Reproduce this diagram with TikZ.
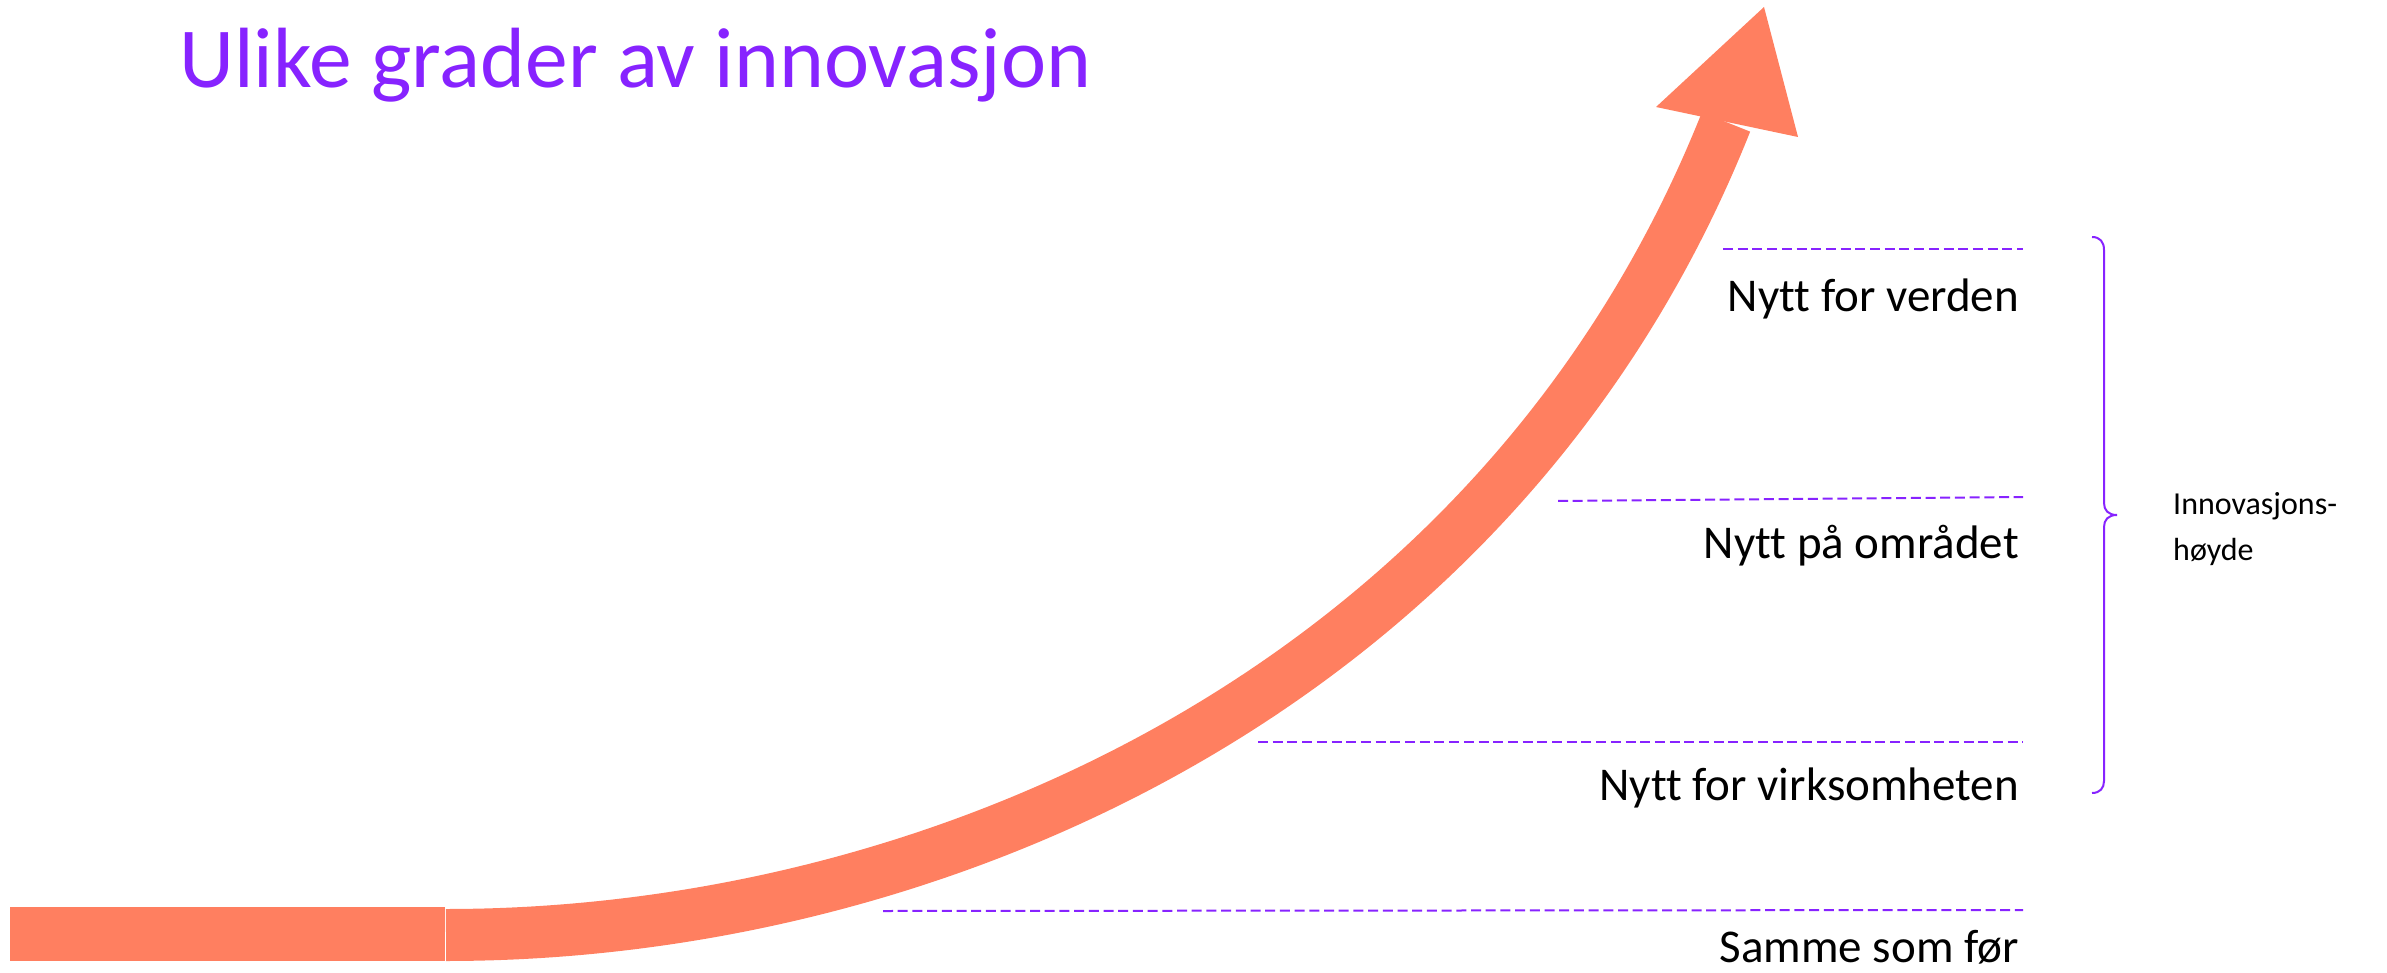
\documentclass[tikz,border=0pt]{standalone}
\usepackage{fontspec}
\setmainfont{Carlito}[Ligatures=NoCommon]
\definecolor{arrowc}{RGB}{255,127,96}
\definecolor{purp}{RGB}{135,35,255}
\tikzset{
  lvl/.style={draw=purp, line width=2pt, dash pattern=on 10pt off 4.7pt},
  lbl/.style={anchor=base east, inner sep=0pt, font=\fontsize{47}{56}\selectfont},
  side/.style={anchor=base west, inner sep=0pt, font=\fontsize{32}{40}\selectfont},
}
\begin{document}
\begin{tikzpicture}[x=1pt,y=-1pt]
\useasboundingbox (0,0) rectangle (2387,973);
% dashed level lines
\draw[lvl] (1723,249) -- (2023,249);
\draw[lvl] (1558,501) -- (2023,497);
\draw[lvl] (1258,742) -- (2023,742);
\draw[lvl] (883,911) -- (2023,910);
% bar
\fill[arrowc] (10,907) rectangle (444.5,961);
% curved arrow
\coordinate (p0) at (446,935);
\coordinate (p1) at (946,935);
\coordinate (p2) at (1504,680);
\coordinate (p3) at (1726,122);
\draw[arrowc, line width=52pt] (p0) .. controls (p1) and (p2) .. (p3);
\fill[arrowc] (1656,107) -- (1764,7) -- (1798,137) -- cycle;
% title
\node[anchor=base west, inner sep=0pt, text=purp, font=\fontsize{85.5}{100}\selectfont] (title) at (179,88) {Ulike grader av innovasjon};
% labels
\node[lbl] (l1) at (2019,312) {Nytt for verden};
\node[lbl] (l2) at (2019,558) {Nytt på området};
\node[lbl] (l3) at (2019,800) {Nytt for virksomheten};
\node[lbl] (l4) at (2019,962) {Samme som før};
% brace
\draw[purp, line width=2pt] (2092,237) .. controls (2100,237) and (2104,242) .. (2104,250) -- (2104,503)
  .. controls (2104,510) and (2108,515) .. (2117,515)
  .. controls (2108,515) and (2104,520) .. (2104,527) -- (2104,781)
  .. controls (2104,788) and (2100,793) .. (2092,793);
\node[side] (inn1) at (2173,514) {Innovasjons-};
\node[side] (inn2) at (2173,560) {høyde};
\end{tikzpicture}
\end{document}
